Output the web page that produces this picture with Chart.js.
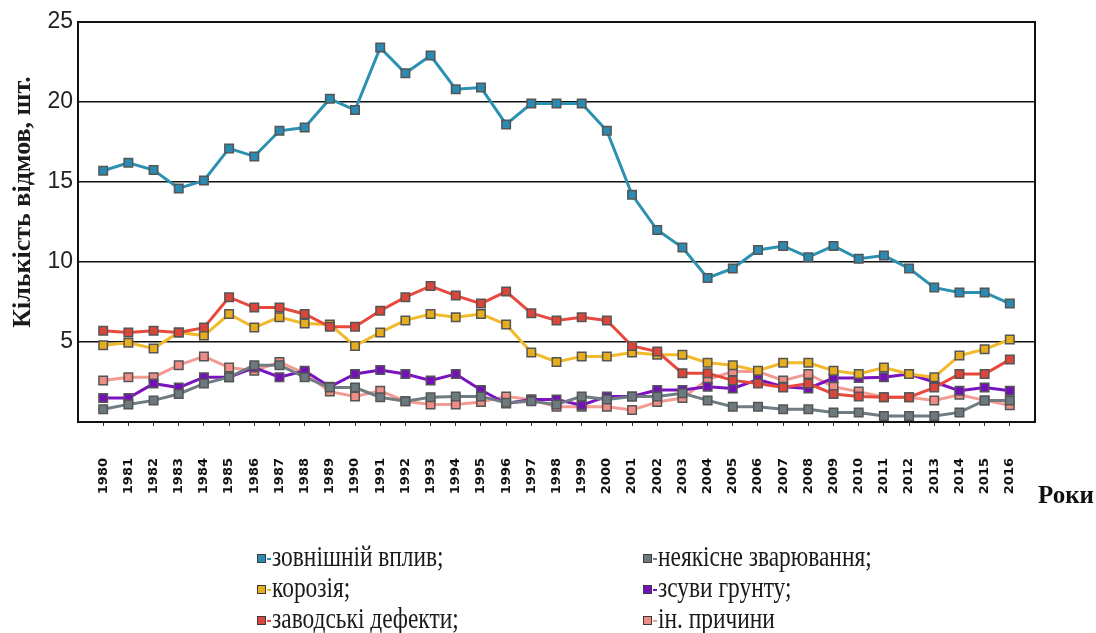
<!DOCTYPE html>
<html>
<head>
<meta charset="utf-8">
<script src="https://cdn.jsdelivr.net/npm/chart.js@4/dist/chart.umd.min.js"></script>
<style>
  html, body { margin: 0; padding: 0; background: #fff; }
  #wrap { position: relative; width: 1096px; height: 633px; overflow: hidden; }
  #legend { position: absolute; left: 0; top: 0; width: 1096px; height: 633px; pointer-events: none; }
  .txt { position: absolute; white-space: nowrap; font-family: "Liberation Serif", serif; font-size: 30px;
    line-height: 30px; color: #1a1a1a; transform: scaleX(0.78); transform-origin: left center; }
  .mk { position: absolute; width: 7px; height: 7px; border: 1.5px solid #3a3a3a; }
  .stub { position: absolute; width: 4px; height: 2px; }
</style>
</head>
<body>
<div id="wrap">
  <canvas id="chart" width="1096" height="633"></canvas>
  <div id="legend"></div>
</div>
<script>
// Years along the x axis
const years = [];
for (let y = 1980; y <= 2016; y++) years.push(y);

// Series (кількість відмов, шт.)
const external = [15.7, 16.2, 15.75, 14.6, 15.1, 17.1, 16.6, 18.2, 18.4, 20.2, 19.5, 23.4, 21.8, 22.9, 20.8, 20.9, 18.6, 19.9, 19.9, 19.9, 18.2, 14.2, 12.0, 10.9, 9.0, 9.6, 10.75, 11.0, 10.3, 11.0, 10.2, 10.4, 9.6, 8.4, 8.1, 8.1, 7.4];
const corrosion = [4.8, 4.95, 4.6, 5.6, 5.4, 6.75, 5.9, 6.55, 6.15, 6.1, 4.75, 5.6, 6.35, 6.75, 6.55, 6.75, 6.1, 4.35, 3.75, 4.1, 4.1, 4.35, 4.2, 4.2, 3.7, 3.55, 3.2, 3.7, 3.7, 3.2, 3.0, 3.4, 3.0, 2.8, 4.15, 4.55, 5.15];
const factory = [5.7, 5.6, 5.7, 5.6, 5.9, 7.8, 7.15, 7.15, 6.75, 5.95, 5.95, 6.95, 7.8, 8.5, 7.9, 7.4, 8.15, 6.8, 6.35, 6.55, 6.35, 4.75, 4.4, 3.05, 3.05, 2.6, 2.4, 2.15, 2.4, 1.75, 1.6, 1.55, 1.55, 2.15, 3.0, 3.0, 3.9];
const welding = [0.8, 1.1, 1.35, 1.75, 2.4, 2.8, 3.55, 3.55, 2.8, 2.15, 2.15, 1.55, 1.3, 1.55, 1.6, 1.6, 1.2, 1.3, 1.1, 1.6, 1.4, 1.6, 1.6, 1.8, 1.35, 0.95, 0.95, 0.8, 0.8, 0.6, 0.6, 0.38, 0.38, 0.38, 0.6, 1.35, 1.35];
const landslide = [1.5, 1.5, 2.4, 2.15, 2.8, 2.8, 3.4, 2.8, 3.2, 2.2, 3.0, 3.25, 3.0, 2.6, 3.0, 2.0, 1.15, 1.4, 1.4, 1.05, 1.6, 1.6, 2.0, 2.0, 2.2, 2.1, 2.65, 2.2, 2.1, 2.75, 2.75, 2.8, 3.0, 2.5, 1.95, 2.15, 1.95];
const other = [2.6, 2.8, 2.8, 3.55, 4.1, 3.4, 3.2, 3.75, 3.05, 1.9, 1.6, 1.95, 1.3, 1.1, 1.1, 1.25, 1.6, 1.4, 0.95, 0.95, 0.95, 0.75, 1.25, 1.5, 2.65, 3.15, 3.15, 2.6, 3.0, 2.2, 1.9, 1.55, 1.55, 1.35, 1.7, 1.35, 1.05];

const yTicks = [5, 10, 15, 20, 25];

const series = [
  { label: 'зовнішній вплив;', data: external, line: '#2b91b0', fill: '#2a8ab2', order: 1 },
  { label: 'корозія;', data: corrosion, line: '#f2b92a', fill: '#e6ad1e', order: 3 },
  { label: 'заводські дефекти;', data: factory, line: '#e9493d', fill: '#dc463a', order: 2 },
  { label: 'неякісне зварювання;', data: welding, line: '#6f7c82', fill: '#6c7a80', order: 4 },
  { label: 'зсуви грунту;', data: landslide, line: '#7b12c2', fill: '#7410b8', order: 5 },
  { label: 'ін. причини', data: other, line: '#f39b93', fill: '#ee8d86', order: 6 }
];

const datasets = series.map(s => ({
  label: s.label,
  data: s.data.map((v, i) => ({ x: years[i], y: v })),
  borderColor: s.line,
  backgroundColor: s.fill,
  borderWidth: 3,
  pointStyle: 'rect',
  pointRadius: 6,
  pointBorderWidth: 1.5,
  pointBorderColor: '#555',
  pointBackgroundColor: s.fill,
  tension: 0,
  order: s.order
}));

// extra texts + chart frame
const decor = {
  id: 'decor',
  afterDraw(chart) {
    const { ctx, chartArea: a } = chart;
    ctx.save();
    ctx.strokeStyle = '#111';
    ctx.lineWidth = 2;
    ctx.strokeRect(a.left, a.top, a.right - a.left, a.bottom - a.top);
    ctx.fillStyle = '#1a1a1a';
    ctx.font = 'bold 26px "Liberation Serif"';
    ctx.textAlign = 'center';
    ctx.textBaseline = 'middle';
    ctx.translate(23, 202);
    ctx.rotate(-Math.PI / 2);
    ctx.fillText('Кількість відмов, шт.', 0, 0);
    ctx.restore();
    ctx.save();
    ctx.fillStyle = '#111';
    ctx.font = 'bold 25px "Liberation Serif"';
    ctx.textAlign = 'left';
    ctx.textBaseline = 'middle';
    ctx.fillText('Роки', 1038, 497);
    ctx.restore();
  }
};

new Chart(document.getElementById('chart'), {
  type: 'line',
  data: { datasets },
  plugins: [decor],
  options: {
    responsive: false,
    animation: false,
    layout: { padding: { left: 0, right: 61, top: 22, bottom: 0 } },
    plugins: { legend: { display: false }, tooltip: { enabled: false } },
    scales: {
      x: {
        type: 'linear',
        min: 1979, max: 2017,
        afterBuildTicks: s => { s.ticks = years.map(v => ({ value: v })); },
        afterFit: s => { s.height = 211; },
        border: { display: true, color: '#111', width: 2 },
        grid: { drawOnChartArea: false, tickLength: 4, color: '#333' },
        ticks: {
          minRotation: 90, maxRotation: 90, padding: 32, autoSkip: false,
          color: '#111', font: { family: 'DejaVu Sans', size: 13, weight: 'bold' },
          callback: v => String(v)
        }
      },
      y: {
        min: 0, max: 25,
        afterBuildTicks: s => { s.ticks = [0].concat(yTicks).map(v => ({ value: v })); },
        afterFit: s => { s.width = 78; },
        border: { display: true, color: '#111', width: 2 },
        grid: { color: '#111', lineWidth: 1.5, drawTicks: false },
        ticks: {
          padding: 5, color: '#222',
          font: { family: 'Liberation Sans', size: 23 },
          callback: v => v === 0 ? '' : String(v)
        }
      }
    }
  }
});

// HTML legend in two columns: [marker centre x, x-height centre y]
const legendPos = [
  [262, 559], [262, 590], [262, 621],
  [648, 559], [648, 590], [648, 621]
];
const legendEl = document.getElementById('legend');
series.forEach((s, k) => {
  const [cx, cy] = legendPos[k];
  const mk = document.createElement('div');
  mk.className = 'mk';
  mk.style.left = (cx - 5) + 'px';
  mk.style.top = (cy - 5) + 'px';
  mk.style.background = s.fill;
  const stub = document.createElement('div');
  stub.className = 'stub';
  stub.style.left = (cx + 5) + 'px';
  stub.style.top = (cy - 1) + 'px';
  stub.style.background = s.line;
  const txt = document.createElement('div');
  txt.className = 'txt';
  txt.style.left = (cx + 10) + 'px';
  txt.style.top = (cy + 7 - 25) + 'px';
  txt.textContent = s.label;
  legendEl.append(mk, stub, txt);
});
</script>
</body>
</html>
